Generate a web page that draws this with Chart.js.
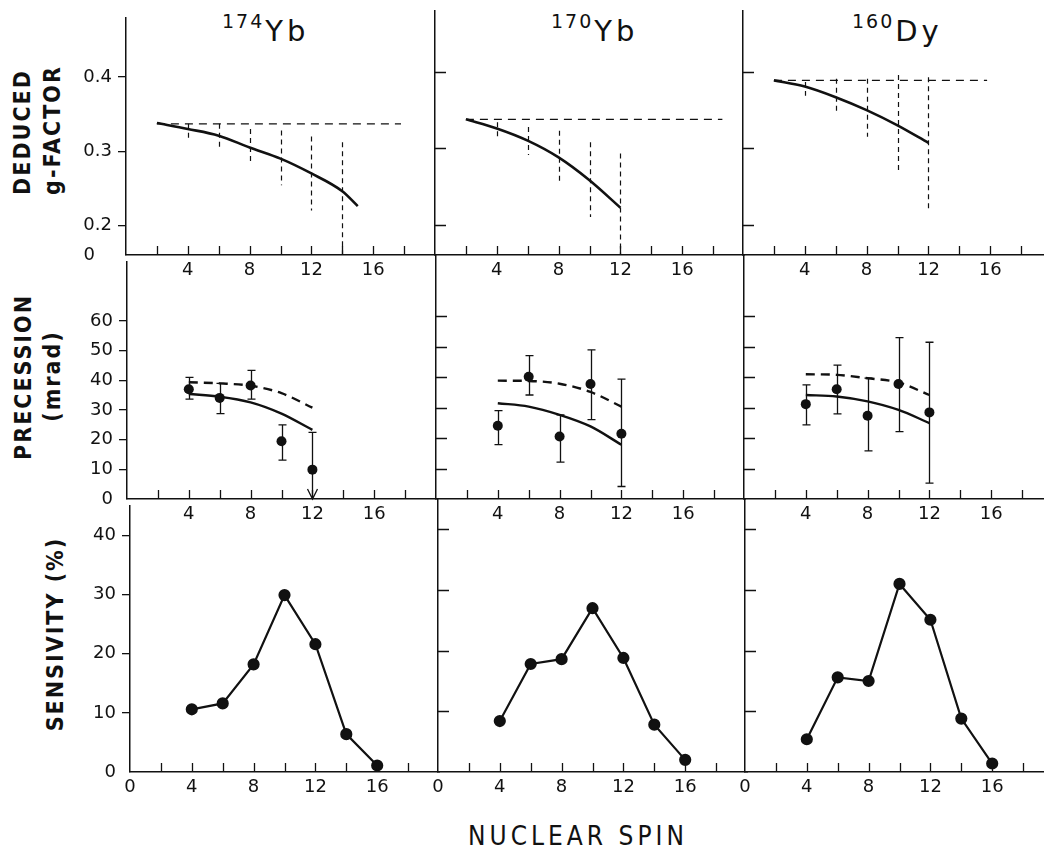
<!DOCTYPE html>
<html lang="en">
<head>
<meta charset="UTF-8">
<title>Deduced g-factor, precession and sensitivity vs nuclear spin</title>
<script src="https://cdn.jsdelivr.net/npm/chart.js"></script>
<style>
  html, body { margin: 0; padding: 0; background: #fff; }
  body { width: 1044px; height: 861px; position: relative; overflow: hidden;
         font-family: "DejaVu Sans", sans-serif; color: #111; }
  .iso { position: absolute; top: 17px; font-size: 29px; line-height: 29px; letter-spacing: 4px; white-space: nowrap; }
  .iso .mass { font-size: 19px; position: relative; top: -13px; letter-spacing: 2px; margin-right: 1px; }
  .ytitle { position: absolute; width: 0; height: 0; }
  .ytitle span { position: absolute; left: 0; top: 0; transform: translate(-50%, -50%) rotate(-90deg);
                 white-space: nowrap; font-family: "DejaVu Sans Condensed", "DejaVu Sans", sans-serif;
                 font-weight: bold; font-size: 23px; letter-spacing: 2px; }
  .xtitle { position: absolute; left: 578px; top: 836px; transform: translate(-50%, -50%);
            font-family: "DejaVu Sans Condensed", "DejaVu Sans", sans-serif;
            font-size: 26px; letter-spacing: 4px; white-space: nowrap; }
</style>
</head>
<body>
  <div class="iso" style="left:222px"><span class="mass">174</span>Yb</div>
  <div class="iso" style="left:551px"><span class="mass">170</span>Yb</div>
  <div class="iso" style="left:852px"><span class="mass">160</span>Dy</div>

  <div class="ytitle" style="left:22px; top:132px"><span>DEDUCED</span></div>
  <div class="ytitle" style="left:52px; top:130px"><span>g-FACTOR</span></div>
  <div class="ytitle" style="left:23px; top:377px"><span>PRECESSION</span></div>
  <div class="ytitle" style="left:52px; top:376px"><span>(mrad)</span></div>
  <div class="ytitle" style="left:55px; top:634px"><span>SENSIVITY (%)</span></div>
  <div class="xtitle">NUCLEAR SPIN</div>

<script>
// spin axis
const spinMinor = [2, 4, 6, 8, 10, 12, 14, 16, 18];
const spinLabels = [4, 8, 12, 16];
const spinLabelsBottom = [0, 4, 8, 12, 16];

// deduced g-factor (top row)
const gTicks = [0.16, 0.2, 0.3, 0.4];
const gTickLabels = ['0   ', '0.2', '0.3', '0.4'];

const gFitSpin174 = [2, 4, 6, 8, 10, 12, 14, 15];
const gFit174 = [0.338, 0.330, 0.321, 0.305, 0.290, 0.270, 0.246, 0.226];
const gFitSpin170 = [2, 4, 6, 8, 10, 12];
const gFit170 = [0.338, 0.326, 0.310, 0.288, 0.258, 0.222];
const gFitSpin160 = [2, 4, 6, 8, 10, 12];
const gFit160 = [0.389, 0.381, 0.367, 0.350, 0.330, 0.307];

const gConstSpin174 = [2, 17.8];
const gConst174 = [0.337, 0.337];
const gConstSpin170 = [2, 18.6];
const gConst170 = [0.338, 0.338];
const gConstSpin160 = [2, 15.8];
const gConst160 = [0.389, 0.389];

const gBarSpin174 = [4, 6, 8, 10, 12, 14];
const gBarHi174 = [0.337, 0.337, 0.330, 0.328, 0.320, 0.312];
const gBarLo174 = [0.318, 0.301, 0.282, 0.254, 0.220, 0.161];
const gBarSpin170 = [4, 6, 8, 10, 12];
const gBarHi170 = [0.334, 0.328, 0.323, 0.308, 0.293];
const gBarLo170 = [0.315, 0.291, 0.256, 0.210, 0.161];
const gBarSpin160 = [4, 6, 8, 10, 12];
const gBarHi160 = [0.387, 0.391, 0.391, 0.396, 0.393];
const gBarLo160 = [0.369, 0.347, 0.315, 0.271, 0.217];

// precession (middle row)
const precTicks = [0, 10, 20, 30, 40, 50, 60];
const precSpin = [4, 6, 8, 10, 12];
const prec174 = [37.0, 34.1, 38.3, 19.5, 9.9];
const precHi174 = [41.0, 39.0, 43.4, 25.0, 22.5];
const precLo174 = [33.7, 28.8, 33.7, 13.1, 0];
const precArrow174 = [false, false, false, false, true];
const prec170 = [24.0, 40.1, 20.5, 37.7, 21.4];
const precHi170 = [29.0, 47.0, 27.6, 48.9, 39.3];
const precLo170 = [17.8, 34.1, 12.1, 26.0, 4.1];
const prec160 = [31.1, 36.0, 27.3, 37.7, 28.4];
const precHi160 = [37.4, 43.9, 39.6, 52.9, 51.4];
const precLo160 = [24.3, 27.9, 15.8, 22.1, 5.2];

const precDash174 = [39.4, 39.0, 38.2, 35.7, 30.8];
const precSolid174 = [35.4, 34.5, 32.6, 28.8, 23.3];
const precDash170 = [38.8, 38.7, 37.8, 35.1, 30.3];
const precSolid170 = [31.4, 30.3, 27.6, 23.8, 17.8];
const precDash160 = [40.9, 40.7, 39.6, 38.2, 34.1];
const precSolid160 = [34.1, 33.6, 32.0, 29.2, 24.9];

// sensitivity (bottom row)
const sensTicks = [0, 10, 20, 30, 40];
const sensSpin = [4, 6, 8, 10, 12, 14, 16];
const sens174 = [10.6, 11.6, 18.2, 29.9, 21.6, 6.4, 1.1];
const sens170 = [8.4, 17.8, 18.6, 27.0, 18.8, 7.8, 2.0];
const sens160 = [5.4, 15.6, 15.0, 31.0, 25.1, 8.8, 1.4];

// ---------------------------------------------------------------
const ink = '#111';
const tickFont = { family: 'DejaVu Sans', size: 18 };
Chart.defaults.font.family = 'DejaVu Sans';
Chart.defaults.color = ink;

// panel frame (plot-area edges in page pixels)
const rowTop = [11, 255, 499];
const rowBottom = [255, 499, 772];
const colLeft = [[126, 435, 743], [127, 436, 744], [130, 438, 745]];
const PANEL_W = 309, PAD_L = 60, PAD_T = 10, PAD_R = 10, PAD_B = 40;

const pts = (xs, ys) => xs.map((v, i) => ({ x: v, y: ys[i] }));

// minor spin ticks point up into the panel; inner y ticks for columns 2 and 3
const panelTicks = {
  id: 'panelTicks',
  afterDatasetsDraw(chart, args, opts) {
    const { ctx, chartArea: a, scales: { x, y } } = chart;
    ctx.save();
    ctx.strokeStyle = ink;
    ctx.lineWidth = 1.3;
    ctx.beginPath();
    spinMinor.forEach(v => {
      const px = Math.round(x.getPixelForValue(v)) + 0.5;
      ctx.moveTo(px, a.bottom);
      ctx.lineTo(px, a.bottom - 9);
    });
    (opts.inner || []).forEach(v => {
      const py = Math.round(y.getPixelForValue(v)) + 0.5;
      ctx.moveTo(a.left, py);
      ctx.lineTo(a.left + 11, py);
    });
    ctx.stroke();
    ctx.restore();
  }
};

// vertical bars: error bars with caps, or dashed spreads
const errorBars = {
  id: 'errorBars',
  afterDatasetsDraw(chart) {
    const { ctx, scales: { x, y } } = chart;
    chart.data.datasets.forEach(ds => {
      if (!ds.errHi) return;
      ctx.save();
      ctx.strokeStyle = ink;
      ctx.lineWidth = ds.errWidth || 1.3;
      ctx.setLineDash(ds.errDash || []);
      ds.data.forEach((p, i) => {
        const px = Math.round(x.getPixelForValue(p.x)) + 0.5;
        const top = y.getPixelForValue(ds.errHi[i]);
        const bot = y.getPixelForValue(ds.errLo[i]);
        const arrow = ds.errArrow && ds.errArrow[i];
        ctx.beginPath();
        ctx.moveTo(px, top);
        ctx.lineTo(px, bot);
        if (ds.errCap) {
          ctx.moveTo(px - ds.errCap, top);
          ctx.lineTo(px + ds.errCap, top);
          if (!arrow) {
            ctx.moveTo(px - ds.errCap, bot);
            ctx.lineTo(px + ds.errCap, bot);
          }
        }
        if (arrow) {
          ctx.moveTo(px - 5, bot - 10);
          ctx.lineTo(px, bot);
          ctx.lineTo(px + 5, bot - 10);
        }
        ctx.stroke();
      });
      ctx.restore();
    });
  }
};

function makePanel(row, col, datasets, yMin, yMax, yTicks, yLabel) {
  const left = colLeft[row][col];
  const top = rowTop[row];
  const w = PAD_L + PANEL_W + PAD_R;
  const h = PAD_T + (rowBottom[row] - top) + PAD_B;
  const cv = document.createElement('canvas');
  cv.width = w;
  cv.height = h;
  cv.style.cssText = `position:absolute;left:${left - PAD_L}px;top:${top - PAD_T}px;width:${w}px;height:${h}px`;
  document.body.appendChild(cv);

  const xLabels = row === 2 ? spinLabelsBottom : spinLabels;

  new Chart(cv, {
    type: 'line',
    data: { datasets },
    options: {
      responsive: false,
      animation: false,
      devicePixelRatio: 1,
      layout: { padding: { left: 0, top: PAD_T, right: PAD_R, bottom: 0 } },
      elements: {
        line: { borderColor: ink, borderWidth: 2.4, fill: false },
        point: { backgroundColor: ink, borderColor: ink, borderWidth: 0, radius: 0 }
      },
      plugins: {
        legend: { display: false },
        tooltip: { enabled: false },
        panelTicks: { inner: col > 0 ? yTicks.filter(v => v !== yMin) : [] }
      },
      scales: {
        x: {
          type: 'linear', min: 0, max: 20,
          afterBuildTicks: s => { s.ticks = xLabels.map(v => ({ value: v })); },
          ticks: { autoSkip: false, maxRotation: 0, padding: 5, font: tickFont, color: ink,
                   callback: v => String(v) },
          grid: { drawOnChartArea: false, drawTicks: false },
          border: { color: ink, width: 1.5 },
          afterFit: s => { s.height = PAD_B; }
        },
        y: {
          type: 'linear', min: yMin, max: yMax,
          afterBuildTicks: s => { s.ticks = yTicks.map(v => ({ value: v })); },
          ticks: { display: col === 0, padding: 6, font: tickFont, color: ink,
                   callback: (v, i) => yLabel(v, i) },
          grid: { drawOnChartArea: false, drawTicks: col === 0, tickLength: 8, lineWidth: 1.3,
                  color: c => (c.tick && c.tick.value === yMin) ? 'rgba(0,0,0,0)' : ink },
          border: { color: ink, width: 1.5 },
          afterFit: s => { s.width = PAD_L; }
        }
      }
    },
    plugins: [panelTicks, errorBars]
  });
}

// top row
const gFitSpin = [gFitSpin174, gFitSpin170, gFitSpin160];
const gFit = [gFit174, gFit170, gFit160];
const gConstSpin = [gConstSpin174, gConstSpin170, gConstSpin160];
const gConst = [gConst174, gConst170, gConst160];
const gBarSpin = [gBarSpin174, gBarSpin170, gBarSpin160];
const gBarHi = [gBarHi174, gBarHi170, gBarHi160];
const gBarLo = [gBarLo174, gBarLo170, gBarLo160];

for (let c = 0; c < 3; c++) {
  makePanel(0, c, [
    { data: pts(gFitSpin[c], gFit[c]), borderWidth: 2.6, cubicInterpolationMode: 'monotone' },
    { data: pts(gConstSpin[c], gConst[c]), borderWidth: 1.3, borderDash: [8, 6] },
    { data: pts(gBarSpin[c], gBarHi[c]), showLine: false, errHi: gBarHi[c], errLo: gBarLo[c],
      errDash: [5, 4], errWidth: 1.2 }
  ], 0.16, 0.48, gTicks, (v, i) => gTickLabels[i]);
}

// middle row
const prec = [prec174, prec170, prec160];
const precHi = [precHi174, precHi170, precHi160];
const precLo = [precLo174, precLo170, precLo160];
const precArrow = [precArrow174, null, null];
const precDash = [precDash174, precDash170, precDash160];
const precSolid = [precSolid174, precSolid170, precSolid160];

for (let c = 0; c < 3; c++) {
  makePanel(1, c, [
    { data: pts(precSpin, precDash[c]), borderWidth: 2.4, borderDash: [9, 6], cubicInterpolationMode: 'monotone' },
    { data: pts(precSpin, precSolid[c]), borderWidth: 2.4, cubicInterpolationMode: 'monotone' },
    { data: pts(precSpin, prec[c]), showLine: false, pointRadius: 5,
      errHi: precHi[c], errLo: precLo[c], errCap: 4, errWidth: 1.3, errArrow: precArrow[c] }
  ], 0, 80, precTicks, v => String(v));
}

// bottom row
const sens = [sens174, sens170, sens160];
for (let c = 0; c < 3; c++) {
  makePanel(2, c, [
    { data: pts(sensSpin, sens[c]), borderWidth: 2.2, pointRadius: 5 }
  ], 0, 45, sensTicks, v => String(v));
}
</script>
</body>
</html>
